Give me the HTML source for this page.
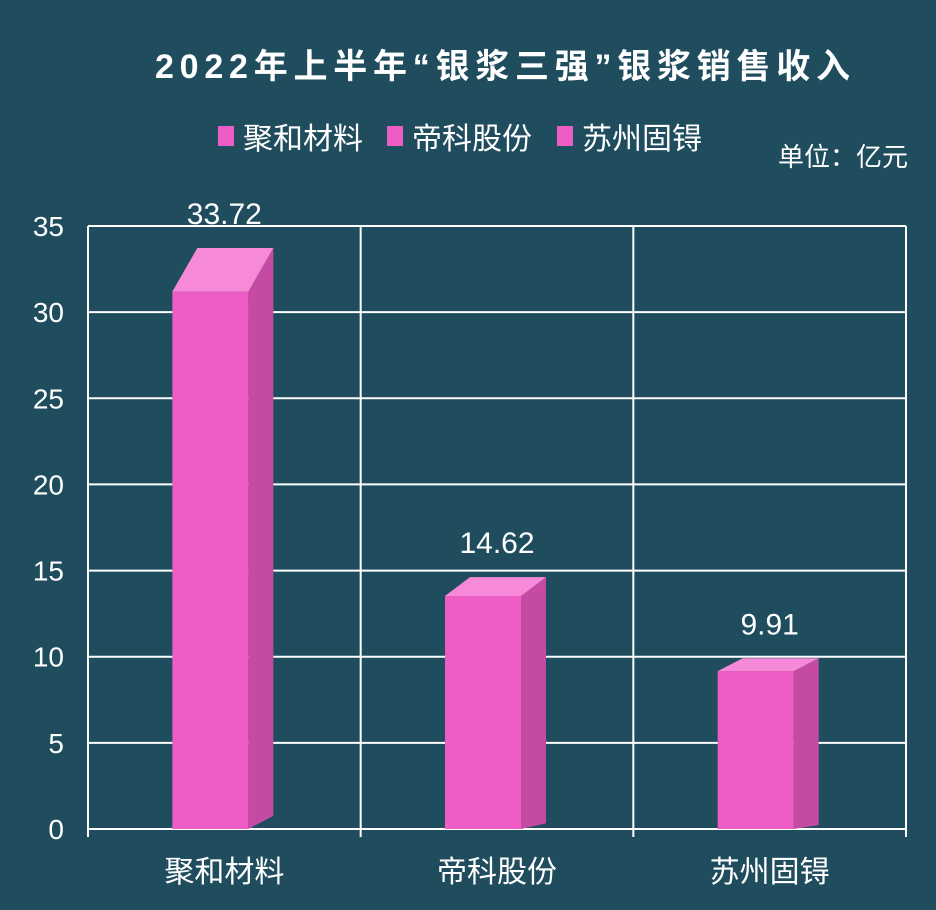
<!DOCTYPE html>
<html><head><meta charset="utf-8"><style>
html,body{margin:0;padding:0;background:#1f4d5e;}
svg{display:block;font-family:"Liberation Sans","Noto Sans CJK SC",sans-serif;}
</style></head><body>
<svg id="c" width="936" height="910" viewBox="0 0 936 910">
<rect x="0" y="0" width="936" height="910" fill="#1f4d5e"/>
<text x="155" y="78" font-size="34" font-weight="bold" fill="#ffffff" textLength="695" lengthAdjust="spacing">2022年上半年“银浆三强”银浆销售收入</text>
<g id="legend"></g>
<text x="908" y="166" text-anchor="end" font-size="26" fill="#ffffff">单位：亿元</text>
<g id="grid"></g><g id="bars"></g><g id="labels"></g>
</svg>
<script>
const categories=["聚和材料","帝科股份","苏州固锝"];
const values=[33.72,14.62,9.91];
const yTicks=[0,5,10,15,20,25,30,35];
const NS="http://www.w3.org/2000/svg";
const x0=88,x1=906,yTop=226,yBot=829,yMax=35;
const y=v=>yBot-(v/yMax)*(yBot-yTop);
const band=(x1-x0)/categories.length;
function mk(tag,attrs,parent){const e=document.createElementNS(NS,tag);for(const k in attrs)e.setAttribute(k,attrs[k]);parent.appendChild(e);return e;}
const grid=document.getElementById('grid'),bars=document.getElementById('bars'),labels=document.getElementById('labels'),legend=document.getElementById('legend');
yTicks.forEach(t=>{
 const l=mk('line',{x1:x0,x2:x1,y1:y(t),y2:y(t),stroke:'#ffffff','stroke-width':2},grid);
 
 
 const tx=mk('text',{x:64,y:y(t)+10,'text-anchor':'end','font-size':28,fill:'#ffffff'},labels);
 tx.textContent=t;
 
 
});
for(let i=0;i<=categories.length;i++){
 const gx=x0+i*band;
 const l=mk('line',{x1:gx,x2:gx,y1:yTop,y2:yBot+8,stroke:'#ffffff','stroke-width':2},grid);
 
 
}
categories.forEach((c,i)=>{
 const cx=x0+band*(i+0.5);
 const bx=cx-52,bw=76,dx=25;
 const backTop=y(values[i]);
 const h=yBot-backTop;
 const frontTop=yBot-h*0.925;
 const dy=frontTop-backTop;
 const g=mk('g',{},bars);
 
 
 mk('polygon',{points:`${bx+bw},${frontTop} ${bx+bw+dx},${backTop} ${bx+bw+dx},${yBot-dy*0.3} ${bx+bw},${yBot}`,fill:'#c54aa3'},g);
 mk('polygon',{points:`${bx},${frontTop} ${bx+dx},${backTop} ${bx+bw+dx},${backTop} ${bx+bw},${frontTop}`,fill:'#f78ad8'},g);
 mk('rect',{x:bx,y:frontTop,width:bw,height:yBot-frontTop,fill:'#ee5cc5'},g);
 const vl=mk('text',{x:cx,y:backTop-24,'text-anchor':'middle','font-size':30,fill:'#ffffff'},labels);
 vl.textContent=values[i].toFixed(2);
 
 
 const cl=mk('text',{x:cx,y:882,'text-anchor':'middle','font-size':30,fill:'#ffffff'},labels);
 cl.textContent=c;
 
 
 const lx=[218,387,557][i];
 const li=mk('rect',{x:lx,y:126,width:16,height:20,fill:'#ee5cc5'},legend);
 
 
 const lt=mk('text',{x:lx+25,y:149,'font-size':30,fill:'#ffffff'},legend);
 lt.textContent=c;
 
 
});
</script>
</body></html>
